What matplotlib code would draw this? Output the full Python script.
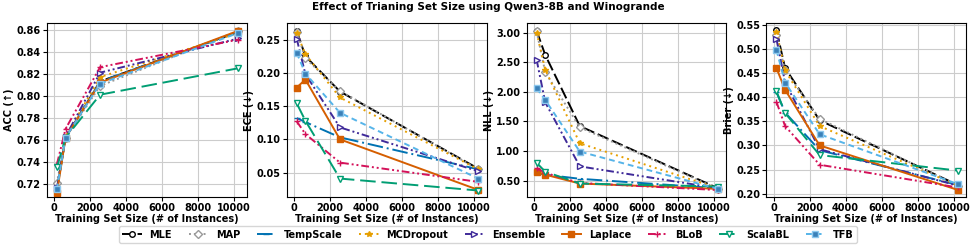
import matplotlib.pyplot as plt

plt.rcParams['font.weight'] = 'bold'
plt.rcParams['axes.labelweight'] = 'bold'
plt.rcParams['font.size'] = 7

sizes = [160, 640, 2558, 10234]
methods = ["MLE", "MAP", "TempScale", "MCDropout", "Ensemble", "Laplace", "BLoB", "ScalaBL", "TFB"]

acc = {
    "MLE":       [0.715, 0.762, 0.813, 0.858],
    "MAP":       [0.721, 0.762, 0.809, 0.859],
    "TempScale": [0.715, 0.762, 0.813, 0.858],
    "MCDropout": [0.713, 0.763, 0.817, 0.857],
    "Ensemble":  [0.716, 0.763, 0.821, 0.852],
    "Laplace":   [0.712, 0.762, 0.812, 0.859],
    "BLoB":      [0.738, 0.770, 0.826, 0.851],
    "ScalaBL":   [0.735, 0.762, 0.801, 0.825],
    "TFB":       [0.715, 0.762, 0.811, 0.857],
}
ece = {
    "MLE":       [0.263, 0.225, 0.172, 0.056],
    "MAP":       [0.262, 0.222, 0.173, 0.055],
    "TempScale": [0.132, 0.126, 0.103, 0.055],
    "MCDropout": [0.260, 0.228, 0.163, 0.055],
    "Ensemble":  [0.251, 0.198, 0.118, 0.052],
    "Laplace":   [0.178, 0.190, 0.100, 0.024],
    "BLoB":      [0.127, 0.108, 0.065, 0.036],
    "ScalaBL":   [0.154, 0.128, 0.041, 0.023],
    "TFB":       [0.230, 0.199, 0.140, 0.041],
}
nll = {
    "MLE":       [3.03, 2.62, 1.42, 0.37],
    "MAP":       [3.02, 2.33, 1.40, 0.36],
    "TempScale": [0.63, 0.60, 0.53, 0.37],
    "MCDropout": [3.00, 2.37, 1.13, 0.37],
    "Ensemble":  [2.54, 1.82, 0.74, 0.37],
    "Laplace":   [0.65, 0.60, 0.45, 0.36],
    "BLoB":      [0.71, 0.63, 0.46, 0.34],
    "ScalaBL":   [0.80, 0.65, 0.45, 0.40],
    "TFB":       [2.06, 1.86, 0.99, 0.36],
}
brier = {
    "MLE":       [0.538, 0.460, 0.352, 0.218],
    "MAP":       [0.528, 0.455, 0.355, 0.217],
    "TempScale": [0.410, 0.368, 0.290, 0.218],
    "MCDropout": [0.535, 0.455, 0.340, 0.217],
    "Ensemble":  [0.520, 0.430, 0.292, 0.217],
    "Laplace":   [0.460, 0.415, 0.300, 0.208],
    "BLoB":      [0.390, 0.340, 0.260, 0.213],
    "ScalaBL":   [0.412, 0.367, 0.280, 0.248],
    "TFB":       [0.497, 0.430, 0.323, 0.220],
}

panels = [("ACC (↑)", acc), ("ECE (↓)", ece), ("NLL (↓)", nll), ("Brier (↓)", brier)]

# color, linestyle, marker, open marker?
styles = {
    "MLE":       ("black",   (0, (6, 2)),          "o", True),
    "MAP":       ("#999999", (0, (1, 1.5)),        "D", True),
    "TempScale": ("#0072B2", (0, (8, 2, 1, 2)),    "_", False),
    "MCDropout": ("#E69F00", (0, (1, 2)),          "*", False),
    "Ensemble":  ("#3F2A99", (0, (4, 1.5, 1, 1.5, 1, 1.5)), ">", True),
    "Laplace":   ("#D55E00", "-",                  "s", False),
    "BLoB":      ("#D41159", (0, (4, 1.5, 1, 1.5, 1, 1.5)), "+", False),
    "ScalaBL":   ("#009E73", (0, (8, 3)),          "v", True),
    "TFB":       ("#56B4E9", (0, (3, 2)),          "s", False),
}

fig, axes = plt.subplots(1, 4, figsize=(9.76, 2.48), dpi=100)
fig.subplots_adjust(left=0.048, right=0.99, top=0.907, bottom=0.205, wspace=0.2)

for ax, (ylabel, data) in zip(axes, panels):
    for m in methods:
        c, ls, mk, hollow = styles[m]
        kw = dict(color=c, linestyle=ls, marker=mk, lw=1.4, ms=4, label=m)
        if hollow:
            kw["markerfacecolor"] = "white"
        if m == "TFB":
            kw["markerfacecolor"] = "#3A80B8"
            kw["markeredgecolor"] = "#8CC8EE"
        ax.plot(sizes, data[m], **kw)
    ax.set_ylabel(ylabel, fontsize=7, labelpad=1.5)
    ax.set_xlabel("Training Set Size (# of Instances)", fontsize=7, labelpad=0.5)
    ax.set_xticks([0, 2000, 4000, 6000, 8000, 10000])
    ax.set_xlim(-400, 10700)
    ax.yaxis.set_major_formatter(plt.FormatStrFormatter("%.2f"))
    ax.grid(True, color="#cccccc", lw=0.8)
    ax.tick_params(labelsize=7, pad=1.5, length=3)
    for lab in ax.get_xticklabels() + ax.get_yticklabels():
        lab.set_fontweight("bold")

axes[0].set_ylim(0.708, 0.866)
axes[0].set_yticks([0.72, 0.74, 0.76, 0.78, 0.80, 0.82, 0.84, 0.86])
axes[1].set_ylim(0.013, 0.275)
axes[1].set_yticks([0.05, 0.10, 0.15, 0.20, 0.25])
axes[2].set_ylim(0.22, 3.16)
axes[2].set_yticks([0.5, 1.0, 1.5, 2.0, 2.5, 3.0])
axes[3].set_ylim(0.193, 0.553)
axes[3].set_yticks([0.20, 0.25, 0.30, 0.35, 0.40, 0.45, 0.50, 0.55])

fig.suptitle("Effect of Trianing Set Size using Qwen3-8B and Winogrande",
             fontsize=7.5, fontweight="bold", y=0.99)
handles, labels = axes[0].get_legend_handles_labels()
fig.legend(handles, labels, loc="lower center", ncol=9, fontsize=7,
           bbox_to_anchor=(0.5, 0.0), frameon=True, handlelength=2.0,
           columnspacing=1.7, borderpad=0.35)

plt.savefig("out.png", dpi=100)
